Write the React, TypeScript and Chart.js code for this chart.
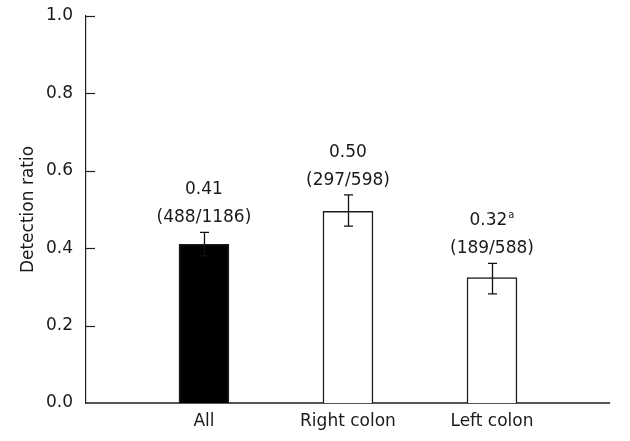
import React, { useEffect, useRef } from "react";
import { Chart, registerables } from "chart.js";

Chart.register(...registerables);

const categories = ["All", "Right colon", "Left colon"];
const ratios = [0.41, 0.495, 0.324];
const errLow = [0.38, 0.457, 0.282];
const errHigh = [0.441, 0.538, 0.361];
const valueLabels = ["0.41", "0.50", "0.32"];
const superscripts = ["", "", "a"];
const countLabels = ["(488/1186)", "(297/598)", "(189/588)"];
const barFills = ["#000000", "#ffffff", "#ffffff"];
const yTickValues = [0, 0.2, 0.4, 0.6, 0.8, 1.0];

const FONT = '"DejaVu Sans", Verdana, sans-serif';

const overlayPlugin = {
  id: "overlay",
  afterDatasetsDraw(chart: any) {
    const ctx = chart.ctx as CanvasRenderingContext2D;
    const yScale = chart.scales.y;
    const meta = chart.getDatasetMeta(0);
    const area = chart.chartArea;
    ctx.save();
    // inward y ticks
    ctx.strokeStyle = "#222";
    ctx.lineWidth = 1.2;
    yTickValues.forEach((t) => {
      if (t === 0) return;
      const py = Math.round(yScale.getPixelForValue(t)) + 0.5;
      ctx.beginPath();
      ctx.moveTo(area.left, py);
      ctx.lineTo(area.left + 9, py);
      ctx.stroke();
    });
    meta.data.forEach((bar: any, i: number) => {
      const x = Math.round(bar.x) + 0.5;
      const hi = yScale.getPixelForValue(errHigh[i]);
      const lo = yScale.getPixelForValue(errLow[i]);
      ctx.strokeStyle = "#111";
      ctx.lineWidth = 1.3;
      ctx.beginPath();
      ctx.moveTo(x, hi);
      ctx.lineTo(x, lo);
      ctx.moveTo(x - 4.5, hi);
      ctx.lineTo(x + 4.5, hi);
      ctx.moveTo(x - 4.5, lo);
      ctx.lineTo(x + 4.5, lo);
      ctx.stroke();

      ctx.fillStyle = "#1a1a1a";
      ctx.textBaseline = "alphabetic";
      const b1 = hi - 44 + 6;
      const b2 = hi - 16 + 6;
      ctx.font = "17px " + FONT;
      ctx.textAlign = "center";
      ctx.fillText(countLabels[i], bar.x, b2);
      const w1 = ctx.measureText(valueLabels[i]).width;
      let w2 = 0;
      if (superscripts[i]) {
        ctx.font = "10px " + FONT;
        w2 = ctx.measureText(superscripts[i]).width + 1;
      }
      const start = bar.x - (w1 + w2) / 2;
      ctx.textAlign = "left";
      ctx.font = "17px " + FONT;
      ctx.fillText(valueLabels[i], start, b1);
      if (superscripts[i]) {
        ctx.font = "10px " + FONT;
        ctx.fillText(superscripts[i], start + w1 + 1, b1 - 7);
      }
    });
    ctx.restore();
  },
};

export default function App() {
  const canvasRef = useRef<HTMLCanvasElement | null>(null);

  useEffect(() => {
    if (!canvasRef.current) return;
    const chart = new Chart(canvasRef.current, {
      type: "bar",
      data: {
        datasets: [
          {
            data: ratios.map((v, i) => ({ x: i, y: v })),
            backgroundColor: barFills,
            borderColor: "#1a1a1a",
            borderWidth: 1.5,
            barThickness: 50,
          },
        ],
      },
      options: {
        animation: false,
        responsive: false,
        devicePixelRatio: 1,
        layout: { padding: { top: 16, right: 21, bottom: 0, left: 0 } },
        plugins: {
          legend: { display: false },
          tooltip: { enabled: false },
        },
        scales: {
          x: {
            type: "linear",
            offset: false,
            min: -0.819,
            max: 2.8125,
            grid: { display: false, drawTicks: false, offset: false },
            border: { display: true, color: "#555", width: 2 },
            afterBuildTicks: (scale: any) => {
              scale.ticks = categories.map((_, i) => ({ value: i }));
            },
            afterFit: (scale: any) => {
              scale.height = 38;
              scale.paddingLeft = 0;
              scale.paddingRight = 0;
            },
            ticks: {
              autoSkip: false,
              maxRotation: 0,
              padding: 8,
              color: "#1a1a1a",
              font: { family: FONT, size: 17 },
              callback: (value: any) => categories[value as number] ?? "",
            },
          },
          y: {
            type: "linear",
            min: 0,
            max: 1,
            grid: { display: false, drawTicks: false },
            border: { display: true, color: "#222", width: 1.2 },
            afterBuildTicks: (scale: any) => {
              scale.ticks = yTickValues.map((v) => ({ value: v }));
            },
            afterFit: (scale: any) => {
              scale.width = 86;
              scale.paddingTop = 0;
              scale.paddingBottom = 0;
            },
            ticks: {
              padding: 13,
              color: "#1a1a1a",
              font: { family: FONT, size: 17 },
              callback: (value: any) => Number(value).toFixed(1),
            },
            title: {
              display: true,
              text: "Detection ratio",
              color: "#1a1a1a",
              font: { family: FONT, size: 17 },
              padding: { top: 18, bottom: 0 },
            },
          },
        },
      },
      plugins: [overlayPlugin],
    });
    return () => chart.destroy();
  }, []);

  return (
    <div style={{ position: "fixed", left: 0, top: 0, width: 630, height: 441, background: "#fff" }}>
      <canvas ref={canvasRef} width={630} height={441} style={{ display: "block" }} />
    </div>
  );
}
